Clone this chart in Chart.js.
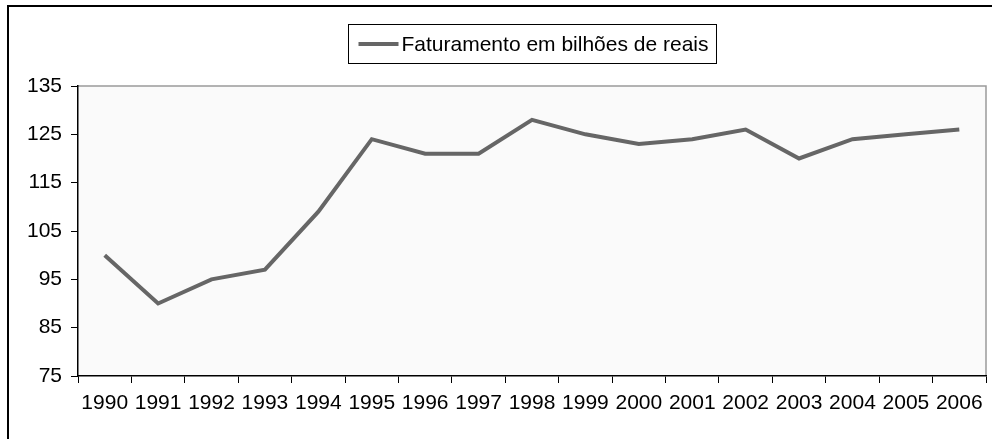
<!DOCTYPE html>
<html>
<head>
<meta charset="utf-8">
<script src="https://cdn.jsdelivr.net/npm/chart.js@4"></script>
<style>
	html, body { margin: 0; padding: 0; background: #fff; }
	#wrap { width: 992px; height: 439px; }
</style>
</head>
<body>
<div id="wrap"><canvas id="chart" width="992" height="439"></canvas></div>
<script>
const years = ['1990', '1991', '1992', '1993', '1994', '1995', '1996', '1997', '1998',
	'1999', '2000', '2001', '2002', '2003', '2004', '2005', '2006']
const faturamento = [100, 90, 95, 97, 109, 124, 121, 121, 128, 125, 123, 124, 126, 120, 124, 125, 126]
const seriesLabel = 'Faturamento em bilhões de reais'

const lineColor = '#666666'
const fontFamily = '"Liberation Sans", Arial, sans-serif'

// frame, plot fill and the gray top/right edges of the plot area
const backdrop = {
	id: 'backdrop',
	beforeDraw(chart) {
		const { ctx, chartArea: a } = chart
		ctx.save()
		ctx.strokeStyle = '#000'
		ctx.lineWidth = 2
		ctx.strokeRect(8, 6, 1000, 450)
		ctx.fillStyle = '#fafafa'
		ctx.fillRect(a.left, a.top, a.right - a.left, a.bottom - a.top)
		ctx.strokeStyle = '#9a9a9a'
		ctx.lineWidth = 1.5
		ctx.beginPath()
		ctx.moveTo(a.left, a.top)
		ctx.lineTo(a.right, a.top)
		ctx.lineTo(a.right, a.bottom)
		ctx.stroke()
		ctx.restore()
	}
}

// boxed legend above the plot
const boxLegend = {
	id: 'boxLegend',
	afterDraw(chart) {
		const { ctx, chartArea: a } = chart
		const ds = chart.data.datasets[0]
		ctx.save()
		ctx.font = '21px ' + fontFamily
		const tw = ctx.measureText(ds.label).width
		const w = 10 + 40 + 3 + tw + 8
		const h = 39
		const cx = (a.left + a.right) / 2
		const x = Math.round(cx - w / 2) + 0.5
		const y = 24.5
		ctx.strokeStyle = '#000'
		ctx.lineWidth = 1
		ctx.strokeRect(x, y, w, h)
		ctx.strokeStyle = ds.borderColor
		ctx.lineWidth = ds.borderWidth
		ctx.beginPath()
		ctx.moveTo(x + 10, y + h / 2)
		ctx.lineTo(x + 50, y + h / 2)
		ctx.stroke()
		ctx.fillStyle = '#000'
		ctx.textBaseline = 'middle'
		ctx.fillText(ds.label, x + 53, y + h / 2 + 1)
		ctx.restore()
	}
}

new Chart(document.getElementById('chart'), {
	type: 'line',
	data: {
		labels: years,
		datasets: [
			{
				label: seriesLabel,
				data: faturamento,
				borderColor: lineColor,
				borderWidth: 4,
				pointRadius: 0,
				tension: 0,
			},
		]
	},
	options: {
		responsive: false,
		animation: false,
		layout: {
			padding: { left: 0, right: 6, top: 86, bottom: 0 }
		},
		plugins: {
			legend: { display: false },
			tooltip: { enabled: false }
		},
		scales: {
			x: {
				offset: true,
				grid: {
					offset: true,
					drawOnChartArea: false,
					color: '#000',
					tickLength: 7,
				},
				border: { color: '#000', width: 1.5 },
				ticks: {
					color: '#000',
					font: { family: fontFamily, size: 21 },
					padding: 8,
					maxRotation: 0,
					autoSkip: false,
				},
				afterFit(scale) { scale.height = 63 }
			},
			y: {
				min: 75,
				max: 135,
				grid: {
					drawOnChartArea: false,
					color: '#000',
					tickLength: 7,
				},
				border: { color: '#000', width: 1.5 },
				ticks: {
					stepSize: 10,
					color: '#000',
					font: { family: fontFamily, size: 21 },
					padding: 9,
				},
				afterFit(scale) { scale.width = 78 }
			}
		}
	},
	plugins: [backdrop, boxLegend]
});
</script>
</body>
</html>
